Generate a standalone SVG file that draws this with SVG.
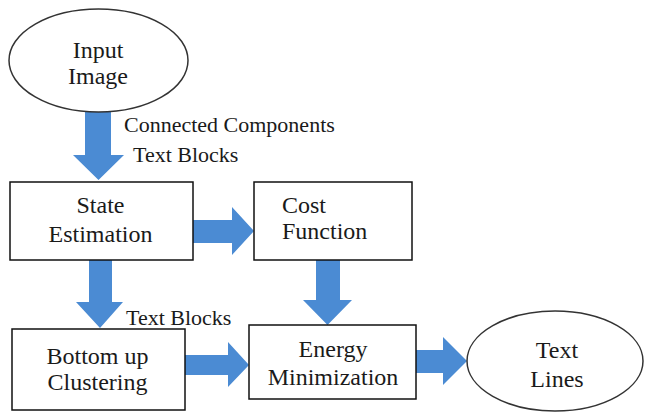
<svg xmlns="http://www.w3.org/2000/svg" width="645" height="413" viewBox="0 0 645 413">
  <defs>
    <style>
      .box { fill: #ffffff; stroke: #111111; stroke-width: 1.5; }
      .oval { fill: #ffffff; stroke: #333333; stroke-width: 1.5; }
      text { font-family: 'Liberation Serif', Tinos, 'Times New Roman', Times, 'Nimbus Roman', 'Nimbus Roman No9 L', FreeSerif, 'DejaVu Serif', 'Noto Serif', serif; fill: #1a1a1a; }
      .t { font-size: 24px; }
      .c { text-anchor: middle; }
      .lbl { font-size: 22px; }
      .arrow { fill: #4B8BD3; }
    </style>
  </defs>
  <rect width="645" height="413" fill="#ffffff"/>

  <g id="connectors">
    <polygon class="arrow" points="85,112 111,112 111,155 124,155 98.5,180 73,155 85,155"/>
    <polygon class="arrow" points="193,220 232,220 232,207 254,231 232,255 232,243 193,243"/>
    <polygon class="arrow" points="89,260 112,260 112,302 123,302 100,328 76,302 89,302"/>
    <polygon class="arrow" points="316,260 340,260 340,300 352,300 327.5,325 303,300 316,300"/>
    <polygon class="arrow" points="185,355 228,355 228,342 249,365 228,387 228,375 185,375"/>
    <polygon class="arrow" points="416,350 443,350 443,337 467,361 443,385 443,373 416,373"/>
    <text class="lbl" x="124" y="132">Connected Components</text>
    <text class="lbl" x="133" y="162">Text Blocks</text>
    <text class="lbl" x="126" y="325">Text Blocks</text>
  </g>

  <g id="input-image">
    <ellipse class="oval" cx="98.5" cy="60.5" rx="89.5" ry="51.5"/>
    <text class="t c" x="98" y="58">Input</text>
    <text class="t c" x="98" y="84">Image</text>
  </g>

  <g id="state-estimation">
    <rect class="box" x="10" y="182" width="183" height="78"/>
    <text class="t c" x="100.5" y="213">State</text>
    <text class="t c" x="100.5" y="242">Estimation</text>
  </g>

  <g id="cost-function">
    <rect class="box" x="254" y="182" width="158" height="78"/>
    <text class="t" x="282" y="213">Cost</text>
    <text class="t" x="282" y="239">Function</text>
  </g>

  <g id="bottom-up-clustering">
    <rect class="box" x="12" y="329" width="173" height="81"/>
    <text class="t c" x="97.5" y="364">Bottom up</text>
    <text class="t c" x="97.5" y="390">Clustering</text>
  </g>

  <g id="energy-minimization">
    <rect class="box" x="249" y="325" width="167" height="74"/>
    <text class="t c" x="333" y="357">Energy</text>
    <text class="t c" x="333" y="385">Minimization</text>
  </g>

  <g id="text-lines">
    <ellipse class="oval" cx="555" cy="361" rx="88" ry="50"/>
    <text class="t c" x="557" y="358">Text</text>
    <text class="t c" x="557" y="387">Lines</text>
  </g>
</svg>
